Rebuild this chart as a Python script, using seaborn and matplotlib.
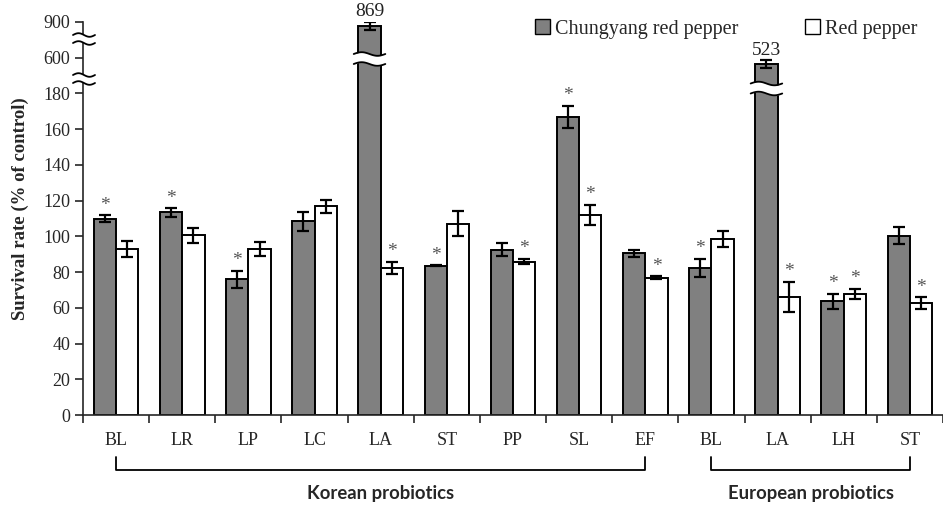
import numpy as np
import pandas as pd
import matplotlib
matplotlib.use("Agg")
import matplotlib.pyplot as plt
import matplotlib.transforms as mtransforms
from matplotlib.patches import Patch
import seaborn as sns

# ---- data -------------------------------------------------------------
category_keys = ["K-BL", "K-LR", "K-LP", "K-LC", "K-LA", "K-ST", "K-PP", "K-SL", "K-EF",
                 "E-BL", "E-LA", "E-LH", "E-ST"]
tick_labels = ["BL", "LR", "LP", "LC", "LA", "ST", "PP", "SL", "EF", "BL", "LA", "LH", "ST"]
series_names = ["Chungyang red pepper", "Red pepper"]

chungyang_mean = [110.0, 113.4, 75.9, 108.4, 869.0, 83.5, 92.5, 167.0, 90.6, 82.4, 523.0, 63.7, 100.3]
chungyang_err = [1.8, 2.4, 4.9, 5.2, 35.0, 0.2, 3.6, 6.2, 2.0, 5.2, 45.0, 4.2, 4.8]
red_mean = [93.0, 100.5, 92.9, 116.8, 82.4, 107.2, 85.9, 112.1, 76.8, 98.5, 66.3, 68.0, 62.6]
red_err = [4.4, 4.2, 3.7, 3.5, 3.5, 7.0, 1.6, 5.6, 0.9, 4.7, 8.4, 2.8, 3.4]

chungyang_sig = [1, 1, 1, 0, 0, 1, 0, 1, 0, 1, 0, 1, 0]
red_sig = [0, 0, 0, 0, 1, 0, 1, 1, 1, 0, 1, 1, 1]

y_ticks = [0, 20, 40, 60, 80, 100, 120, 140, 160, 180, 600, 900]
group_names = ["Korean probiotics", "European probiotics"]
group_spans = [(0, 8), (9, 12)]

# ---- style ------------------------------------------------------------
sns.set_style("ticks")
serif = ["Liberation Serif", "DejaVu Serif"]
plt.rcParams["font.family"] = serif
plt.rcParams["axes.linewidth"] = 1.2

# broken value axis: 0-180 linear, 180-600 and 600-900 compressed
def fwd(v):
    v = np.asarray(v, dtype=float)
    return np.where(v <= 180, v,
                    np.where(v <= 600, 180 + (v - 180) * 20.0 / 420.0,
                             200 + (v - 600) * 20.0 / 300.0))

def inv(s):
    s = np.asarray(s, dtype=float)
    return np.where(s <= 180, s,
                    np.where(s <= 200, 180 + (s - 180) * 420.0 / 20.0,
                             600 + (s - 200) * 300.0 / 20.0))

W, H = 943, 509
fig = plt.figure(figsize=(W / 100, H / 100), dpi=100)
ax_l, ax_r, ax_b, ax_t = 83, 943, 415, 22
ax = fig.add_axes([ax_l / W, 1 - ax_b / H, (ax_r - ax_l) / W, (ax_b - ax_t) / H])

df = pd.DataFrame({
    "group": category_keys * 2,
    "series": [series_names[0]] * len(category_keys) + [series_names[1]] * len(category_keys),
    "value": chungyang_mean + red_mean,
})

palette = {series_names[0]: "#808080", series_names[1]: "white"}
sns.barplot(data=df, x="group", y="value", hue="series", order=category_keys,
            hue_order=series_names, palette=palette, edgecolor="black",
            linewidth=1.4, width=0.675, errorbar=None, legend=False, ax=ax, zorder=2)

ax.set_yscale("function", functions=(fwd, inv))
ax.set_ylim(0, 900)
ax.set_yticks(y_ticks)
ax.set_yticklabels([str(t) for t in y_ticks])
cat_px = 66.7
ax.set_xlim(-0.5, -0.5 + (ax_r - ax_l) / cat_px)

# category boundaries carry the tick marks, labels sit at the centres
n = len(category_keys)
ax.set_xticks(np.arange(n + 1) - 0.5)
ax.set_xticklabels([])
ax.set_xticks(np.arange(n), minor=True)
ax.set_xticklabels(tick_labels, minor=True)
ax.tick_params(axis="x", which="major", direction="out", length=6, width=1.2)
ax.tick_params(axis="x", which="minor", length=0, pad=12, labelsize=13)
ax.tick_params(axis="y", direction="out", length=6, width=1.2, labelsize=13, pad=3)
ax.set_xlabel("")
ax.set_ylabel("Survival rate (% of control)", fontsize=13.5, fontweight="bold")
ax.yaxis.set_label_coords((29 - ax_l) / (ax_r - ax_l), (ax_b - 209) / (ax_b - ax_t))
sns.despine(ax=ax, top=True, right=True)

# error bars, significance marks
def centers(container):
    return sorted(p.get_x() + p.get_width() / 2 for p in container.patches)

xc_chung = centers(ax.containers[0])
xc_red = centers(ax.containers[1])
bar_w = ax.containers[0].patches[0].get_width()

for xs, means, errs, sig in [(xc_chung, chungyang_mean, chungyang_err, chungyang_sig),
                             (xc_red, red_mean, red_err, red_sig)]:
    ax.errorbar(xs, means, yerr=errs, fmt="none", ecolor="black", elinewidth=1.6,
                capsize=4.5, capthick=1.6, zorder=4)
    for x, m, e, s in zip(xs, means, errs, sig):
        if s:
            ax.annotate("*", (x, m + e), xytext=(0, 1), textcoords="offset points",
                        ha="center", va="bottom", fontsize=14, color="#555555")

# value labels on the broken bars
for i in (4, 10):
    ax.annotate(f"{chungyang_mean[i]:.0f}", (xc_chung[i], chungyang_mean[i] + chungyang_err[i]),
                xytext=(0, 1), textcoords="offset points", ha="center", va="bottom",
                fontsize=14, color="#222222", annotation_clip=False)

# wavy break symbols
def frac_from_px(py):
    return (ax_b - py) / (ax_b - ax_t)

px_x = 1.0 / (ax_r - ax_l)
px_y = 1.0 / (ax_b - ax_t)

def wave_break(trans, x0, x1, y_lo, y_hi, clip):
    xx = np.linspace(x0, x1, 60)
    amp = 1.8 * px_y
    w = amp * np.sin(np.linspace(0, 2 * np.pi, 60))
    ax.fill_between(xx, y_lo + w, y_hi + w, color="white", transform=trans,
                    zorder=5, clip_on=clip, linewidth=0)
    for yb in (y_lo, y_hi):
        ax.plot(xx, yb + w, color="black", lw=1.3, transform=trans, zorder=6, clip_on=clip)

blend = mtransforms.blended_transform_factory(ax.transData, ax.transAxes)
ext = 0.07
for i, py in ((4, 59), (10, 88.5)):
    x = xc_chung[i]
    wave_break(blend, x - bar_w / 2 - ext, x + bar_w / 2 + ext,
               frac_from_px(py + 5), frac_from_px(py - 5), False)

for py in (39, 79):
    wave_break(ax.transAxes, -10 * px_x, 12 * px_x,
               frac_from_px(py + 4), frac_from_px(py - 4), False)

# group brackets under the axis
for name, (a, b) in zip(group_names, group_spans):
    y_top, y_bot = frac_from_px(457), frac_from_px(470)
    ax.plot([a, a, b, b], [y_top, y_bot, y_bot, y_top], color="black", lw=1.3,
            transform=blend, clip_on=False)
    ax.text((a + b) / 2, frac_from_px(494), name, transform=blend, ha="center",
            va="center", fontsize=13.3, fontweight="bold", family=["Lato", "DejaVu Sans"])

handles = [Patch(facecolor=palette[s], edgecolor="black", linewidth=1.0) for s in series_names]
fig.legend(handles, series_names, loc="center left", bbox_to_anchor=(535 / W, 1 - 29 / H),
           ncol=2, frameon=False, fontsize=14.5, handlelength=0.75, handleheight=0.75,
           handletextpad=0.25, columnspacing=3.3, borderpad=0, borderaxespad=0)

fig.savefig("out.png", dpi=100)
